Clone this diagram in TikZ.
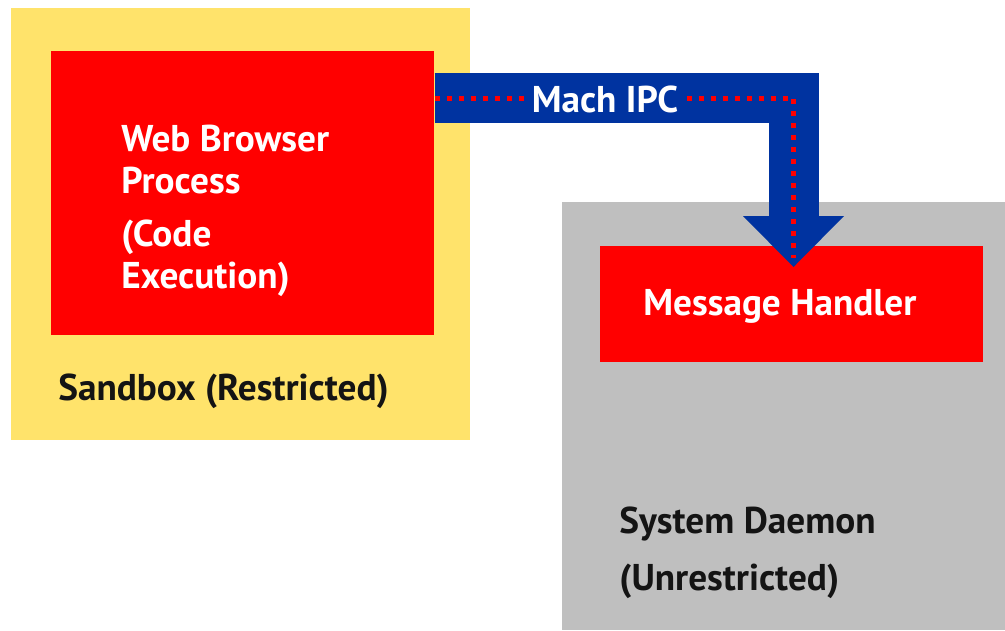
\documentclass[tikz,border=0pt]{standalone}
\usepackage{fontspec}
\setmainfont{PT Sans}
\usetikzlibrary{arrows.meta}
\definecolor{sandyellow}{HTML}{FFE36B}
\definecolor{procred}{HTML}{FF0000}
\definecolor{daemongrey}{HTML}{BFBFBF}
\definecolor{ipcblue}{HTML}{0033A0}
\definecolor{inkblack}{HTML}{141414}
\tikzstyle{zone} = [
  rectangle,
  anchor = north west,
  inner sep = 0pt
]
\tikzstyle{caption} = [
  anchor = base west,
  inner sep = 0pt,
  align = left,
  font = \fontsize{21.2pt}{23.9pt}\selectfont\bfseries
]
\tikzstyle{pipe} = [
  draw = ipcblue,
  line width = 1cm,
  line join = miter,
  -{Triangle[width=2.02cm,length=1.02cm,line width=0pt]}
]
\tikzstyle{dots} = [
  draw = procred,
  line width = 0.1cm,
  dash pattern = on 0.1cm off 0.14cm
]
\begin{document}
\begin{tikzpicture}
  \useasboundingbox (0,0) rectangle (20.1,-12.6);
  % boxes
  \node [zone, fill=sandyellow, minimum width=9.18cm, minimum height=8.64cm] (sandbox) at (0.22,-0.16) {};
  \node [zone, fill=procred, minimum width=7.66cm, minimum height=5.68cm] (browser) at (1.02,-1.02) {};
  \node [zone, fill=daemongrey, minimum width=8.86cm, minimum height=8.56cm] (daemon) at (11.24,-4.04) {};
  \node [zone, fill=procred, minimum width=7.66cm, minimum height=2.32cm] (handler) at (12.00,-4.92) {};
  % ipc pipe
  \coordinate (ipcin) at (8.64,-1.96);
  \coordinate (ipctip) at (15.87,-5.34);
  \coordinate (ipcend) at (15.87,-5.16);
  \draw [pipe] (ipcin -| browser.east) -| (ipctip);
  \draw [dots] (ipcin -| browser.east) -| (ipcend);
  \node [caption, anchor=base, fill=ipcblue, inner xsep=0.05cm, inner ysep=0.02cm, text=white] (mach) at (12.10,-2.24) {Mach IPC};
  % labels
  \node [caption, text=white] (browsertext) at (2.42,-5.76) {Web Browser\\Process\\[0.22cm](Code\\Execution)};
  \node [caption, text=inkblack] (sandboxtext) at (1.16,-8.00) {Sandbox (Restricted)};
  \node [caption, text=white] (handlertext) at (12.86,-6.30) {Message Handler};
  \node [caption, text=inkblack] (daemontext) at (12.38,-11.80) {System Daemon\\[0.30cm](Unrestricted)};
\end{tikzpicture}
\end{document}
